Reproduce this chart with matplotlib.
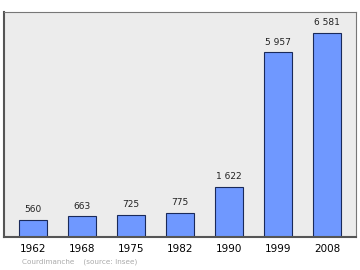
import matplotlib
matplotlib.use("Agg")
import matplotlib.pyplot as plt

years = ["1962", "1968", "1975", "1982", "1990", "1999", "2008"]
population = [560, 663, 725, 775, 1622, 5957, 6581]
value_labels = ["560", "663", "725", "775", "1 622", "5 957", "6 581"]

fig = plt.figure(figsize=(3.6, 2.7), dpi=100)
fig.patch.set_facecolor("white")
ax = fig.add_axes([0.011, 0.122, 0.978, 0.834])
ax.set_facecolor("#ececec")

x = list(range(len(years)))
ax.bar(x, population, width=0.57, color="#6f98ff", edgecolor="#1a2a5a", linewidth=0.8, zorder=2)
for xi, v, lab in zip(x, population, value_labels):
    ax.text(xi, v + 180, lab, ha="center", va="bottom", fontsize=6.5, color="#222222")

ax.set_xlim(-0.59, 6.59)
ax.set_ylim(0, 7258)
ax.set_yticks([])
ax.set_xticks(x)
ax.set_xticklabels(years, fontsize=7.5)
ax.tick_params(axis="x", length=0, pad=5)

for s in ["left", "bottom"]:
    ax.spines[s].set_color("#555555")
    ax.spines[s].set_linewidth(1.5)
for s in ["top", "right"]:
    ax.spines[s].set_color("#777777")
    ax.spines[s].set_linewidth(0.8)

fig.text(0.061, 0.025, "Courdimanche    (source: Insee)", fontsize=5.2, color="#aaaaaa")

fig.savefig("out.png", dpi=100)
